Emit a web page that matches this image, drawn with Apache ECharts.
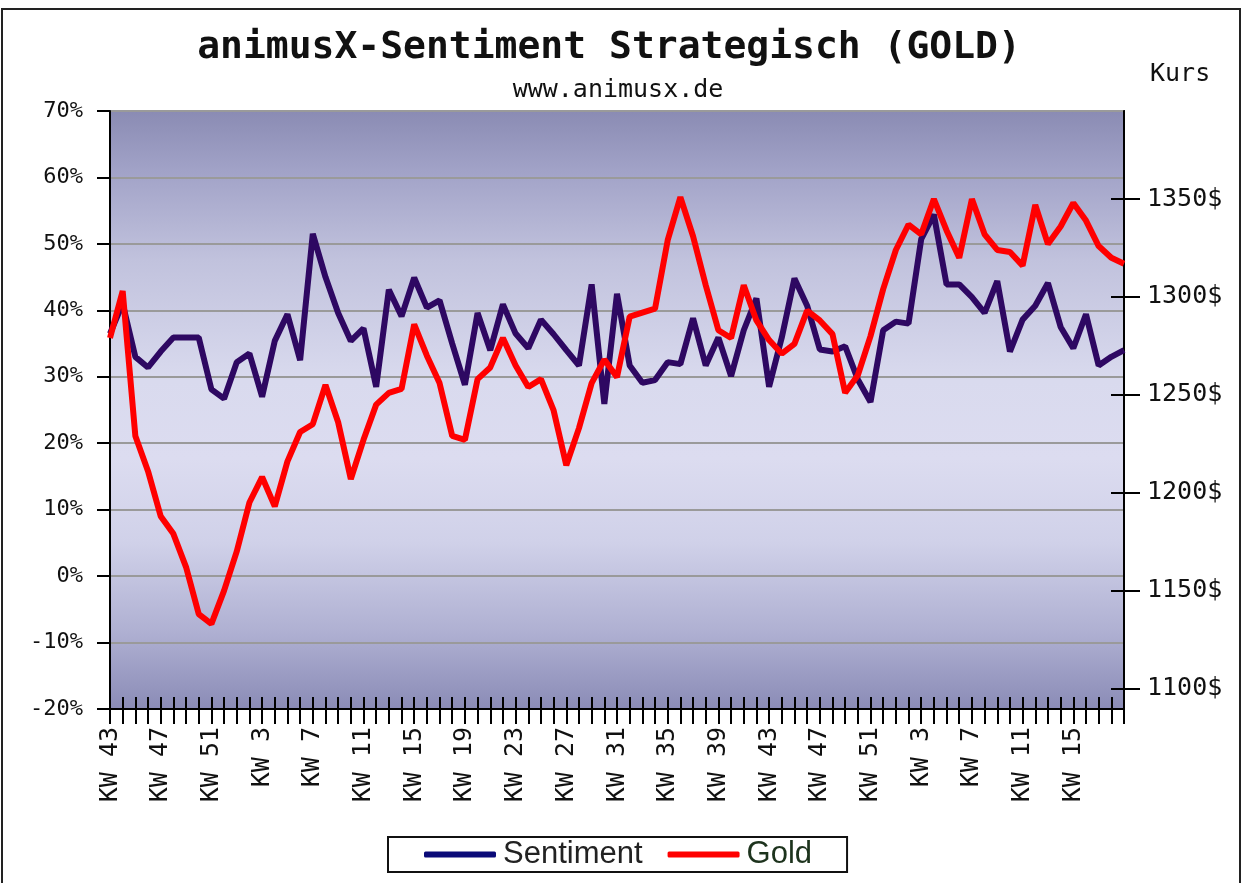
<!DOCTYPE html>
<html>
<head>
<meta charset="utf-8">
<script src="https://cdn.jsdelivr.net/npm/echarts@6/dist/echarts.min.js"></script>
<style>
  html, body { margin: 0; padding: 0; background: #fff; }
  #main { width: 1246px; height: 883px; }
</style>
</head>
<body>
<div id="main"></div>
<script>
// Kalenderwochen (KW 43 .. KW 52, KW 1 .. KW 52, KW 1 .. KW 19)
var weeks = [
    'KW 43','KW 44','KW 45','KW 46','KW 47','KW 48','KW 49','KW 50','KW 51','KW 52',
    'KW 1','KW 2','KW 3','KW 4','KW 5','KW 6','KW 7','KW 8','KW 9','KW 10',
    'KW 11','KW 12','KW 13','KW 14','KW 15','KW 16','KW 17','KW 18','KW 19','KW 20',
    'KW 21','KW 22','KW 23','KW 24','KW 25','KW 26','KW 27','KW 28','KW 29','KW 30',
    'KW 31','KW 32','KW 33','KW 34','KW 35','KW 36','KW 37','KW 38','KW 39','KW 40',
    'KW 41','KW 42','KW 43','KW 44','KW 45','KW 46','KW 47','KW 48','KW 49','KW 50',
    'KW 51','KW 52','KW 1','KW 2','KW 3','KW 4','KW 5','KW 6','KW 7','KW 8',
    'KW 9','KW 10','KW 11','KW 12','KW 13','KW 14','KW 15','KW 16','KW 17','KW 18',
    'KW 19'
];

// Sentiment in %
var sentiment = [
    36.5, 41, 33, 31.4, 33.8, 35.9, 35.9, 35.9, 28.1, 26.7,
    32.2, 33.5, 27, 35.4, 39.4, 32.5, 51.5, 45, 39.6, 35.4,
    37.3, 28.5, 43.1, 39.1, 44.9, 40.4, 41.5, 35, 28.8, 39.6,
    34, 40.9, 36.5, 34.3, 38.6, 36.4, 34, 31.7, 43.9, 25.9,
    42.5, 31.7, 29.1, 29.5, 32.2, 31.9, 38.8, 31.7, 35.9, 30.1,
    37, 41.8, 28.5, 35.9, 44.8, 40.7, 34.1, 33.8, 34.6, 29.6,
    26.2, 37, 38.3, 38, 50.7, 54.4, 43.9, 43.9, 42, 39.6,
    44.4, 33.8, 38.6, 40.7, 44.1, 37.5, 34.3, 39.4, 31.7, 33,
    34
];

// Goldkurs in $
var gold = [
    1279, 1303, 1229, 1211, 1188, 1179, 1162, 1138, 1133, 1150,
    1170, 1195, 1208, 1193, 1216, 1231, 1235, 1255, 1236, 1207,
    1227, 1245, 1251, 1253, 1286, 1270, 1256, 1229, 1227, 1258,
    1264, 1279, 1265, 1254, 1258, 1242, 1214, 1233, 1256, 1268,
    1259, 1290, 1292, 1294, 1329, 1351, 1331, 1306, 1283, 1279,
    1306, 1288, 1278, 1271, 1276, 1293, 1288, 1281, 1251, 1260,
    1280, 1304, 1324, 1337, 1332, 1350, 1334, 1320, 1350, 1332,
    1324, 1323, 1316, 1347, 1327, 1336, 1348, 1339, 1326, 1320,
    1317
];

var kursTicks = [1100, 1150, 1200, 1250, 1300, 1350];

var mono = 'DejaVu Sans Mono';

var myChart = echarts.init(document.getElementById('main'));

var option = {
    backgroundColor: '#ffffff',
    animation: false,
    title: [
        {
            text: 'animusX-Sentiment Strategisch (GOLD)',
            left: 604, top: 24, textAlign: 'center',
            textStyle: { fontFamily: mono, fontWeight: 'bold', fontSize: 38, color: '#111' }
        },
        {
            text: 'www.animusx.de',
            left: 613, top: 73, textAlign: 'center',
            textStyle: { fontFamily: mono, fontWeight: 'normal', fontSize: 25, color: '#111' }
        },
        {
            text: 'Kurs',
            left: 1145, top: 57,
            textStyle: { fontFamily: mono, fontWeight: 'normal', fontSize: 25, color: '#111' }
        }
    ],
    graphic: [
        {
            type: 'rect',
            shape: { x: 2, y: 9, width: 1238, height: 900 },
            style: { fill: 'none', stroke: '#222', lineWidth: 2 },
            silent: true, z: -1
        }
    ],
    legend: {
        left: 388, top: 837,
        padding: [2, 35, 2, 36],
        itemGap: 25,
        itemWidth: 72, itemHeight: 6,
        itemStyle: { borderWidth: 0 },
        borderColor: '#111', borderWidth: 2,
        backgroundColor: '#fff',
        textStyle: { fontFamily: 'Liberation Sans', fontSize: 31, color: '#222', padding: [0, 0, 0, 2] },
        data: [
            { name: 'Sentiment', icon: 'roundRect', itemStyle: { color: '#0a0a78' } },
            { name: 'Gold', icon: 'roundRect', itemStyle: { color: '#ff0000' }, textStyle: { color: '#1d331d' } }
        ]
    },
    grid: {
        left: 110, right: 122, top: 111, bottom: 174,
        show: true,
        borderColor: '#333', borderWidth: 2,
        backgroundColor: {
            type: 'linear', x: 0, y: 0, x2: 0, y2: 1,
            colorStops: [
                { offset: 0, color: '#8a8bb3' },
                { offset: 0.1, color: '#a1a2c7' },
                { offset: 0.25, color: '#c1c2dd' },
                { offset: 0.45, color: '#d9daee' },
                { offset: 0.58, color: '#dcdcf0' },
                { offset: 0.72, color: '#d0d1e9' },
                { offset: 0.87, color: '#afb0d2' },
                { offset: 1, color: '#8a8bb6' }
            ]
        }
    },
    xAxis: [
        {
            type: 'category',
            data: weeks,
            boundaryGap: false,
            axisLine: { onZero: false, lineStyle: { color: '#000', width: 2 } },
            axisTick: { interval: 0, length: 15, lineStyle: { color: '#000', width: 2 } },
            axisLabel: {
                interval: function (i) { return i % 4 === 0 && i < 80; },
                rotate: 90, margin: 18,
                fontFamily: mono, fontSize: 25, color: '#111'
            },
            splitLine: { show: false }
        },
        {
            type: 'category',
            data: weeks,
            position: 'bottom',
            boundaryGap: false,
            axisLine: { show: false, onZero: false },
            axisTick: { inside: true, interval: 0, length: 12, lineStyle: { color: '#000', width: 2 } },
            axisLabel: { show: false },
            splitLine: { show: false }
        }
    ],
    yAxis: [
        {
            type: 'value',
            min: -20, max: 70, interval: 10,
            axisLine: { show: true, lineStyle: { color: '#000', width: 2 } },
            axisTick: { show: true, length: 13, lineStyle: { color: '#000', width: 2 } },
            axisLabel: { formatter: '{value}%', margin: 27, fontFamily: mono, fontSize: 22, color: '#111' },
            splitLine: { show: true, lineStyle: { color: '#9a9a9a', width: 2 } }
        },
        {
            type: 'value',
            position: 'right',
            min: 1089.5, max: 1395,
            axisLine: { show: true, lineStyle: { color: '#000', width: 2 } },
            axisTick: { show: true, length: 16, customValues: kursTicks, lineStyle: { color: '#000', width: 2 } },
            axisLabel: {
                customValues: kursTicks,
                formatter: function (v) { return Math.round(v) + '$'; },
                margin: 23,
                fontFamily: mono, fontSize: 25, color: '#111'
            },
            splitLine: { show: false }
        },
        {
            type: 'value',
            position: 'right',
            min: 1089.5, max: 1395,
            axisLine: { show: false },
            axisTick: { show: true, inside: true, length: 13, customValues: kursTicks, lineStyle: { color: '#000', width: 2 } },
            axisLabel: { show: false },
            splitLine: { show: false }
        }
    ],
    series: [
        {
            name: 'Sentiment',
            type: 'line',
            yAxisIndex: 0,
            data: sentiment,
            showSymbol: false,
            symbol: 'none',
            lineStyle: { color: '#2e0862', width: 6 },
            itemStyle: { color: '#2e0862' }
        },
        {
            name: 'Gold',
            type: 'line',
            yAxisIndex: 1,
            data: gold,
            showSymbol: false,
            symbol: 'none',
            lineStyle: { color: '#ff0000', width: 6 },
            itemStyle: { color: '#ff0000' }
        }
    ]
};

myChart.setOption(option);
</script>
</body>
</html>
